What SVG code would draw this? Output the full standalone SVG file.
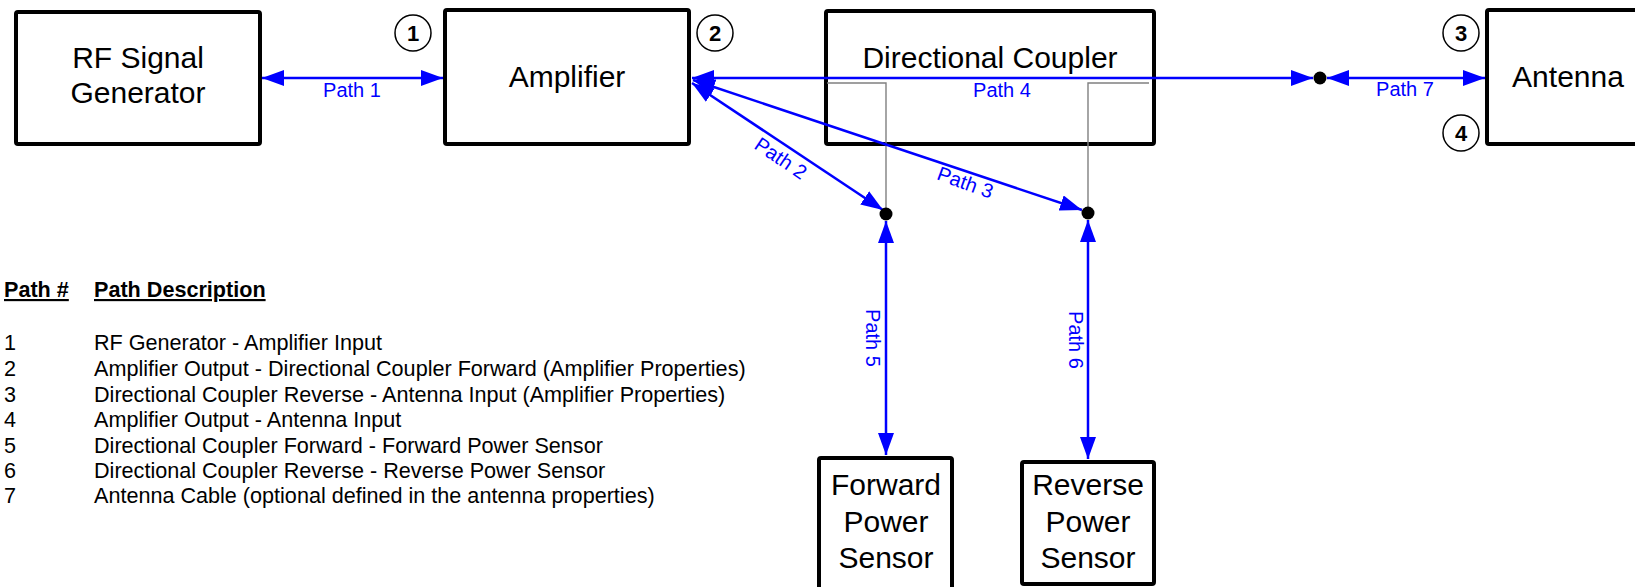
<svg xmlns="http://www.w3.org/2000/svg" width="1635" height="587" viewBox="0 0 1635 587">
<style>
.box{fill:#fff;stroke:#000;stroke-width:4;stroke-linejoin:round}
.nt{font-family:"Liberation Sans",Arial,sans-serif;font-size:30px;fill:#000;text-anchor:middle}
.num{fill:#fff;stroke:#000;stroke-width:1.5}
.nn{font-family:"Liberation Sans",Arial,sans-serif;font-size:22px;font-weight:bold;fill:#000;text-anchor:middle}
.conn{stroke:#0000ff;stroke-width:2.5;fill:none;marker-start:url(#ah);marker-end:url(#ah)}
.gray{stroke:#808080;stroke-width:1.4;fill:none}
.lbl{font-family:"Liberation Sans",Arial,sans-serif;font-size:20px;fill:#0000ff;text-anchor:middle}
.lg{font-family:"Liberation Sans",Arial,sans-serif;font-size:21.6px;fill:#000}
.lgh{font-family:"Liberation Sans",Arial,sans-serif;font-size:21.6px;font-weight:bold;fill:#000;text-decoration:underline}
</style>
<defs>
<marker id="ah" viewBox="0 0 22 16" refX="22" refY="8" markerWidth="22" markerHeight="16" markerUnits="userSpaceOnUse" orient="auto-start-reverse">
<path d="M0,0 L22,8 L0,16 z" fill="#0000ff"/>
</marker>
</defs>
<rect width="1635" height="587" fill="#fff"/>

<g id="node-rf">
<rect class="box" x="16" y="12" width="244" height="132" rx="2"/>
<text class="nt" x="138" y="68">RF Signal</text>
<text class="nt" x="138" y="103">Generator</text>
</g>
<g id="node-amplifier">
<rect class="box" x="445" y="10" width="244" height="134" rx="2"/>
<text class="nt" x="567" y="87">Amplifier</text>
</g>
<g id="node-coupler">
<rect class="box" x="826" y="11" width="328" height="133" rx="2"/>
<text class="nt" x="990" y="68">Directional Coupler</text>
<path class="gray" d="M827,83 H886 V214"/>
<path class="gray" d="M1149,83 H1088 V213"/>
</g>
<g id="node-antenna">
<rect class="box" x="1487" y="10" width="200" height="134" rx="2"/>
<text class="nt" x="1568" y="87">Antenna</text>
</g>
<g id="node-forward-sensor">
<rect class="box" x="819" y="458" width="133" height="140" rx="2"/>
<text class="nt" x="886" y="495">Forward</text>
<text class="nt" x="886" y="532">Power</text>
<text class="nt" x="886" y="568">Sensor</text>
</g>
<g id="node-reverse-sensor">
<rect class="box" x="1022" y="462" width="132" height="122" rx="2"/>
<text class="nt" x="1088" y="495">Reverse</text>
<text class="nt" x="1088" y="532">Power</text>
<text class="nt" x="1088" y="568">Sensor</text>
</g>

<g id="port-markers">
<circle class="num" cx="413" cy="33" r="18"/><text class="nn" x="413" y="41">1</text>
<circle class="num" cx="715" cy="33" r="18"/><text class="nn" x="715" y="41">2</text>
<circle class="num" cx="1461" cy="33" r="18"/><text class="nn" x="1461" y="41">3</text>
<circle class="num" cx="1461" cy="133" r="18"/><text class="nn" x="1461" y="141">4</text>
</g>

<g id="connectors">
<line class="conn" x1="262" y1="78" x2="443" y2="78"/>
<line class="conn" x1="692" y1="78" x2="1313" y2="78"/>
<line class="conn" x1="1327" y1="78" x2="1485" y2="78"/>
<line class="conn" x1="692" y1="83" x2="883" y2="210"/>
<line class="conn" x1="693" y1="80" x2="1082" y2="210"/>
<line class="conn" x1="886" y1="221" x2="886" y2="455"/>
<line class="conn" x1="1088" y1="220" x2="1088" y2="459"/>
<circle cx="1320" cy="78" r="6.5" fill="#000"/>
<circle cx="886" cy="214" r="6.5" fill="#000"/>
<circle cx="1088" cy="213" r="6.5" fill="#000"/>
<text class="lbl" x="352" y="97">Path 1</text>
<text class="lbl" x="1002" y="97">Path 4</text>
<text class="lbl" x="1405" y="96">Path 7</text>
<text class="lbl" transform="translate(777,164) rotate(34)">Path 2</text>
<text class="lbl" transform="translate(963,189) rotate(20)">Path 3</text>
<text class="lbl" transform="translate(866,338) rotate(90)">Path 5</text>
<text class="lbl" transform="translate(1069,340) rotate(90)">Path 6</text>
</g>

<g id="legend">
<text class="lgh" x="4" y="297">Path #</text>
<text class="lgh" x="94" y="297">Path Description</text>
<text class="lg" x="4" y="350">1</text><text class="lg" x="94" y="350">RF Generator - Amplifier Input</text>
<text class="lg" x="4" y="376">2</text><text class="lg" x="94" y="376">Amplifier Output - Directional Coupler Forward (Amplifier Properties)</text>
<text class="lg" x="4" y="402">3</text><text class="lg" x="94" y="402">Directional Coupler Reverse - Antenna Input (Amplifier Properties)</text>
<text class="lg" x="4" y="427">4</text><text class="lg" x="94" y="427">Amplifier Output - Antenna Input</text>
<text class="lg" x="4" y="453">5</text><text class="lg" x="94" y="453">Directional Coupler Forward - Forward Power Sensor</text>
<text class="lg" x="4" y="478">6</text><text class="lg" x="94" y="478">Directional Coupler Reverse - Reverse Power Sensor</text>
<text class="lg" x="4" y="503">7</text><text class="lg" x="94" y="503">Antenna Cable (optional defined in the antenna properties)</text>
</g>
</svg>
